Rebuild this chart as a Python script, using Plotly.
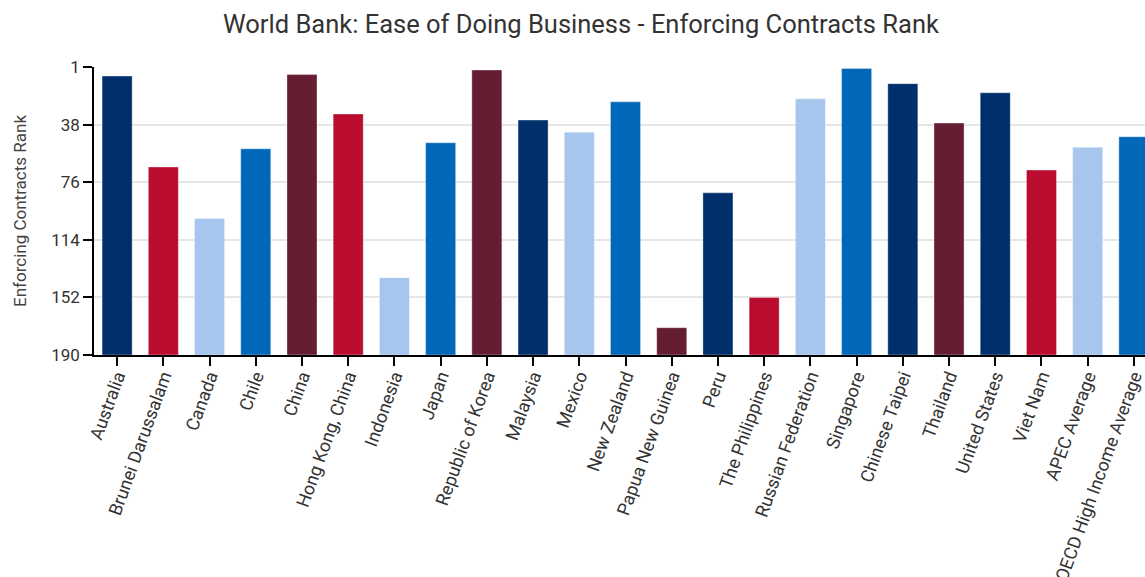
import plotly.graph_objects as go

economies = ["Australia", "Brunei Darussalam", "Canada", "Chile", "China",
             "Hong Kong, China", "Indonesia", "Japan", "Republic of Korea",
             "Malaysia", "Mexico", "New Zealand", "Papua New Guinea", "Peru",
             "The Philippines", "Russian Federation", "Singapore", "Chinese Taipei",
             "Thailand", "United States", "Viet Nam", "APEC Average",
             "OECD High Income Average"]
ranks = [6, 66, 100, 54, 5, 31, 139, 50, 2, 35, 43, 23, 172, 83, 152, 21, 1, 11,
         37, 17, 68, 53, 46]

NAVY, RED, LIGHT, BLUE, MAROON = "#002F6C", "#BA0C2F", "#A7C6ED", "#0067B9", "#651D32"
colors = [NAVY, RED, LIGHT, BLUE, MAROON, RED, LIGHT, BLUE, MAROON, NAVY, LIGHT,
          BLUE, MAROON, NAVY, RED, LIGHT, BLUE, NAVY, MAROON, NAVY, RED, LIGHT, BLUE]

tick_vals = [0, 38, 76, 114, 152, 190]
tick_text = ["1", "38", "76", "114", "152", "190"]
AXIS_MAX = 190

fig = go.Figure(go.Bar(
    x=economies,
    y=[r - AXIS_MAX for r in ranks],
    base=AXIS_MAX,
    marker=dict(color=colors, line=dict(color="rgba(255,255,255,0.35)", width=1)),
    customdata=ranks,
    hovertemplate="%{x}: %{customdata}<extra></extra>",
))

fig.update_layout(
    width=1145, height=577,
    margin=dict(l=94, r=0, t=67, b=222),
    paper_bgcolor="white", plot_bgcolor="white",
    font=dict(family="Roboto, sans-serif", color="#333"),
    bargap=0.35,
    showlegend=False,
    title=dict(text="World Bank: Ease of Doing Business - Enforcing Contracts Rank",
               x=0.5074, xref="container", xanchor="center",
               y=1 - 24 / 577, yref="container", yanchor="middle",
               font=dict(size=25.5, color="#333", family="Roboto, sans-serif")),
)
fig.update_xaxes(
    range=[-0.5, 22.24], tickangle=-70, automargin=False,
    showline=True, linecolor="black", linewidth=1.5,
    ticks="outside", ticklen=9, tickcolor="black", tickwidth=1.5,
    ticklabelstandoff=-7,
    tickfont=dict(size=18, color="#333"), showgrid=False,
)
fig.update_yaxes(
    range=[AXIS_MAX, 0], tickvals=tick_vals, ticktext=tick_text, automargin=False,
    showline=True, linecolor="black", linewidth=1.5,
    ticks="outside", ticklen=9, tickcolor="black", tickwidth=1.5,
    tickfont=dict(size=17, color="#333"),
    showgrid=True, gridcolor="#e6e6e6", gridwidth=1.5, zeroline=False,
    title=dict(text="Enforcing Contracts Rank", font=dict(size=17, color="#444"), standoff=20),
)

fig.write_html("out.html")
